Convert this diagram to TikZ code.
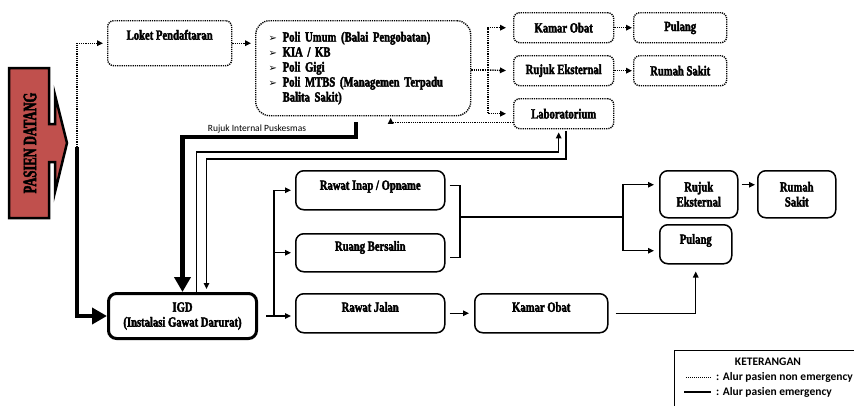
\documentclass[tikz,border=0pt]{standalone}
\usepackage{fontspec}
\usetikzlibrary{arrows.meta,calc}
\newfontfamily\condf[FakeStretch=0.76,BoldFeatures={FakeBold=2.5}]{Liberation Serif}
\newfontfamily\condbig[FakeStretch=0.66,BoldFeatures={FakeBold=2.5}]{Liberation Serif}
\newfontfamily\calib{Carlito}
\newfontfamily\dejavu{DejaVu Sans}
\definecolor{pasred}{HTML}{C0504D}
\newcommand\pbul{\makebox[14pt][l]{\dejavu\fontsize{10}{10}\selectfont ➢}}
\begin{document}
\begin{tikzpicture}[x=1pt,y=-1pt,
  bx/.style={font=\condf\bfseries\fontsize{14}{15}\selectfont, align=center, inner sep=0pt, anchor=north west, rounded corners=6pt},
  dbox/.style={bx, draw, line width=1.4pt, dash pattern=on 1.2pt off 1pt},
  sbox/.style={bx, draw, line width=1.5pt, rounded corners=8pt},
  dln/.style={line width=1.4pt, dash pattern=on 1.2pt off 1pt},
  sln/.style={line width=1.4pt},
  arr/.style={-{Triangle[length=6pt,width=5.5pt]}},
  thk/.style={line width=4.5pt, -{Triangle[length=15pt,width=16pt]}},
  lgf/.style={font=\calib\bfseries\fontsize{11.5}{12}\selectfont, inner sep=1pt}
]
\clip (0,0) rectangle (854,405);
\fill[white] (0,0) rectangle (854,405);

% Pasien datang arrow
\draw[line width=2.5pt, fill=pasred, line join=miter]
  (9,68) -- (49,68) -- (49,124) -- (55,124) -- (55,95) -- (67,143) -- (55,192)
  -- (55,162) -- (49,162) -- (49,218) -- (9,218) -- cycle;
\node[rotate=90, font=\condbig\bfseries\fontsize{19}{19}\selectfont] (pasien) at (30,143) {PASIEN DATANG};

% non-emergency boxes
\node[dbox, minimum width=124pt, text height=19pt, text depth=26pt] (loket) at (107,20) {Loket Pendaftaran};
\node[dbox, rounded corners=14pt, align=left, text width=189pt, inner xsep=13pt, minimum height=95pt] (poli) at (255,20)
  {\pbul Poli Umum (Balai Pengobatan)\\ \pbul KIA / KB\\ \pbul Poli Gigi\\ \pbul Poli MTBS (Managemen Terpadu\\ \hspace*{14pt}Balita Sakit)};
\node[dbox, minimum width=100pt, minimum height=30pt] (kam1) at (513,12) {Kamar Obat};
\node[dbox, minimum width=100pt, minimum height=30pt] (ruj1) at (513,55) {Rujuk Eksternal};
\node[dbox, minimum width=100pt, minimum height=30pt] (lab) at (513,98) {Laboratorium};
\node[dbox, minimum width=93pt, minimum height=30pt] (pul1) at (633,12) {Pulang};
\node[dbox, minimum width=93pt, minimum height=30pt] (rs1) at (633,55) {Rumah Sakit};

% emergency boxes
\node[sbox, line width=3pt, minimum width=148pt, minimum height=45pt] (igd) at (107,292) {IGD\\(Instalasi Gawat Darurat)};
\node[sbox, minimum width=149pt, text height=19pt, text depth=20pt] (rinap) at (295,170) {Rawat Inap / Opname};
\node[sbox, minimum width=149pt, text height=17pt, text depth=21pt] (rb) at (295,233) {Ruang Bersalin};
\node[sbox, minimum width=149pt, text height=18pt, text depth=21pt] (rj) at (295,293) {Rawat Jalan};
\node[sbox, minimum width=133pt, text height=18pt, text depth=21pt] (ko2) at (474,293) {Kamar Obat};
\node[sbox, minimum width=78pt, minimum height=47pt] (rk2) at (659,170) {Rujuk\\Eksternal};
\node[sbox, minimum width=78pt, minimum height=47pt] (rs2) at (757,170) {Rumah\\Sakit};
\node[sbox, minimum width=72pt, text height=19pt, text depth=20pt] (pl2) at (659,224) {Pulang};

% pasien connectors
\coordinate (ps) at (77,147);
\draw[dln, arr, shorten >=4pt] (ps) |- (loket.west);
\draw[thk] (ps) |- (igd.west);

% non emergency flow
\draw[dln, arr, shorten >=4pt] (loket.east) -- (loket.east -| poli.west);
\coordinate (br) at (488,70);
\draw[dln] (poli.east |- br) -- (br);
\draw[dln, arr, shorten >=7pt] (br) -- (ruj1.west);
\draw[dln, arr, shorten >=7pt] (br) |- (kam1.west);
\draw[dln, arr, shorten >=7pt] (br) |- (lab.west);
\draw[dln, arr, shorten >=1pt] (kam1.east) -- (pul1.west);
\draw[dln, arr, shorten >=1pt] (ruj1.east) -- (rs1.west);
\draw[dln, arr, shorten >=1.5pt] ([yshift=-9pt]lab.west) -| ([xshift=27.5pt]poli.south);

% rujuk internal
\coordinate (ri) at (356,122);
\draw[thk] (ri) -- ++(0,15) -| (igd.north);
\node[font=\calib\fontsize{9.5}{11}\selectfont, inner sep=0pt] (rilbl) at (257,129) {Rujuk Internal Puskesmas};

% IGD <-> lab
\draw[sln, arr, shorten >=3pt] ([xshift=14pt]igd.north) -- ++(0,-140) -| ([xshift=-5pt]lab.south);
\coordinate (lo) at (566,131);
\draw[sln, arr, shorten >=3pt] (lo) -- ++(0,28) -| ([xshift=24pt]igd.north);

% IGD branches
\coordinate (jx) at (274,0);
\draw[sln, arr, shorten >=4pt] ([xshift=8pt]igd.east) -- (igd.east -| rj.west);
\draw[sln, arr, shorten >=4pt] (jx |- igd.east) |- (rinap.west);
\draw[sln, arr, shorten >=4pt] (jx |- rb.west) -- (rb.west);

% bracket
\coordinate (bk) at (460,217);
\draw[sln] ([xshift=4pt,yshift=4.5pt]rinap.east) -| (bk) |- ([xshift=4pt,yshift=-5pt]rb.east);
\coordinate (jr) at (623,217);
\draw[sln] (bk) -- (jr);
\draw[sln, arr, shorten >=5pt] (jr) |- ([yshift=9.5pt]rk2.west);
\draw[sln, arr, shorten >=5pt] (jr) |- ([yshift=-6.5pt]pl2.west);
\draw[sln, arr, shorten >=2pt] ([xshift=3pt,yshift=9.5pt]rk2.east) -- ([yshift=9.5pt]rs2.west);
\draw[sln, arr, shorten >=5pt] ([xshift=4pt]rj.east) -- (ko2.west);
\draw[sln, arr, shorten >=7pt] ([xshift=7pt]ko2.east) -| (pl2.south);

% legend
\node[draw, line width=1pt, anchor=north west, minimum width=200pt, minimum height=65pt, inner sep=0pt] (leg) at (674,350) {};
\node[lgf] (legt) at (768,362) {KETERANGAN};
\node[lgf, anchor=west] (leg1) at (715,377) {: Alur pasien non emergency};
\node[lgf, anchor=west] (leg2) at (715,392) {: Alur pasien emergency};
\draw[line width=1pt, dash pattern=on 1pt off 1pt] ([xshift=-29pt]leg1.west) -- ([xshift=-4pt]leg1.west);
\draw[line width=1.5pt] ([xshift=-31pt]leg2.west) -- ([xshift=-4pt]leg2.west);
\end{tikzpicture}
\end{document}
